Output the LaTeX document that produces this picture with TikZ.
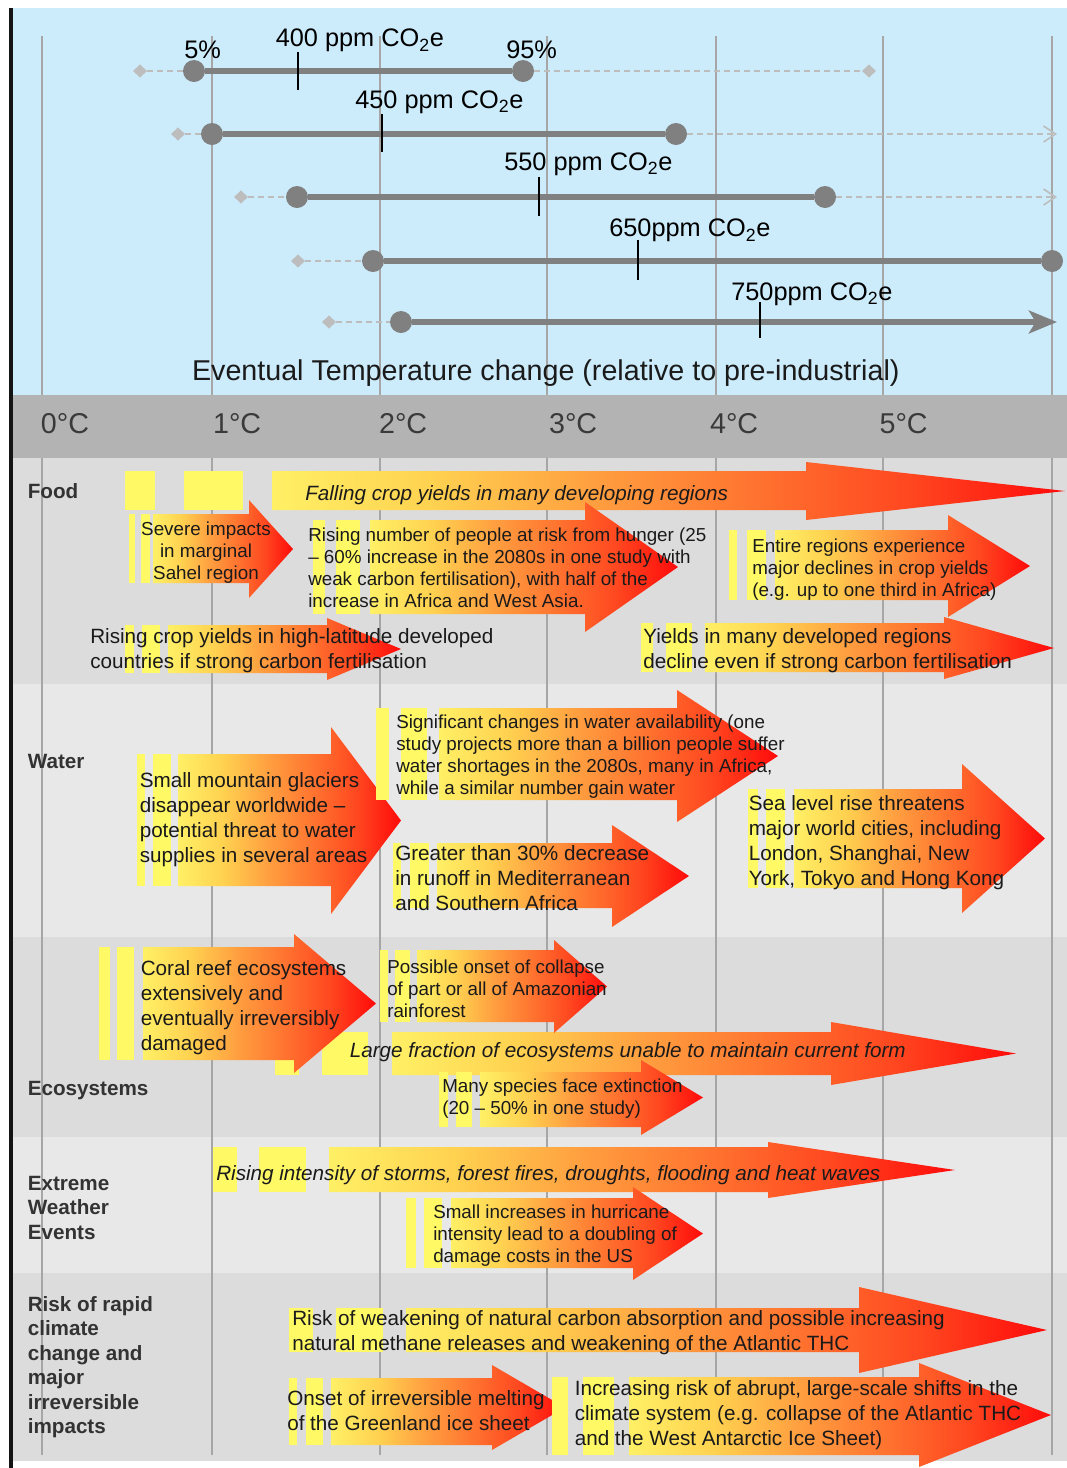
\documentclass[tikz,border=0pt]{standalone}
\usepackage{fontspec}
\setmainfont{Liberation Sans}
\usetikzlibrary{shapes.geometric,arrows.meta}
\definecolor{skyb}{HTML}{CCEBFB}
\definecolor{hdrgray}{HTML}{B3B3B3}
\definecolor{banda}{HTML}{DCDCDC}
\definecolor{bandb}{HTML}{E8E8E8}
\definecolor{gridc}{HTML}{A6A6A6}
\definecolor{ylwbar}{HTML}{FFF966}
\definecolor{shA}{HTML}{FFF066}
\definecolor{shB}{HTML}{FFD250}
\definecolor{shC}{HTML}{FFA040}
\definecolor{shD}{HTML}{FF7530}
\definecolor{shE}{HTML}{FF4820}
\definecolor{shF}{HTML}{FF0A0A}
\definecolor{rowline}{HTML}{808080}
\definecolor{dashc}{HTML}{BDBDBD}
\definecolor{txt}{HTML}{1A1A1A}
\definecolor{labc}{HTML}{333333}
\definecolor{degc}{HTML}{3A3A3A}
\pgfdeclarehorizontalshading{warm}{100bp}{color(0bp)=(shA); color(25bp)=(shA); color(35bp)=(shB); color(45bp)=(shC); color(55bp)=(shD); color(65bp)=(shE); color(75bp)=(shF); color(100bp)=(shF)}
\newcommand\txl[1]{\begin{tabular}[t]{@{}l@{}}#1\end{tabular}}
\newcommand\txc[1]{\begin{tabular}[t]{@{}c@{}}#1\end{tabular}}
% x0, y1, y2, xh, yt, yb, xt
\newcommand\garrow[7]{\shade[shading=warm] (#1,#2) -- (#4,#2) -- (#4,#5) -- (#7,{(#5+#6)/2}) -- (#4,#6) -- (#4,#3) -- (#1,#3) -- cycle;}
% x1, x2, y1, y2
\newcommand\ybr[4]{\fill[fill=ylwbar] (#1,#3) rectangle (#2,#4);}
\tikzset{
  lab/.style={font=\fontsize{15.5}{18.4}\selectfont\bfseries, text=labc, anchor=base west, inner sep=0pt},
  bt/.style={font=\fontsize{15.5}{18.75}\selectfont, text=txt, anchor=base west, inner sep=0pt},
  st/.style={font=\fontsize{14.1}{16.5}\selectfont, text=txt, anchor=base west, inner sep=0pt},
  itx/.style={font=\fontsize{15.5}{18.75}\selectfont\itshape, text=txt, anchor=base west, inner sep=0pt},
  topl/.style={font=\fontsize{19}{22}\selectfont, text=black, anchor=base west, inner sep=0pt},
  evt/.style={font=\fontsize{21.5}{25}\selectfont, text=txt, anchor=base west, inner sep=0pt},
  degl/.style={font=\fontsize{21.5}{25}\selectfont, text=degc, anchor=base west, inner sep=0pt},
  gridln/.style={draw=gridc, line width=1pt},
  dot/.style={circle, fill=rowline, minimum size=16.5pt, inner sep=0pt},
  dmd/.style={diamond, fill=dashc, minimum width=10.5pt, minimum height=10pt, inner sep=0pt},
  solidln/.style={draw=rowline, line width=4.5pt},
  dashln/.style={draw=dashc, line width=1.5pt, dash pattern=on 4.5pt off 3pt},
  tickln/.style={draw=black, line width=1.2pt},
}
\begin{document}
\begin{tikzpicture}[x=0.75pt, y=-0.75pt]
\useasboundingbox (0,0) rectangle (1067,1468);
\fill[white] (0,0) rectangle (1067,1468);
% panels
\fill[skyb] (12.5,8) rectangle (1067,395);
\fill[banda] (12.5,458) rectangle (1067,684);
\fill[bandb] (12.5,684) rectangle (1067,937);
\fill[banda] (12.5,937) rectangle (1067,1137);
\fill[bandb] (12.5,1137) rectangle (1067,1273);
\fill[banda] (12.5,1273) rectangle (1067,1461);
% grid lines
\foreach \gx in {42,212,380,547,716,883,1052} {
  \draw[gridln] (\gx,36) -- (\gx,395);
  \draw[gridln] (\gx,458) -- (\gx,1455);
}
\fill[hdrgray] (12.5,395) rectangle (1067,458);
\fill[black!92] (8.5,8) rectangle (12.5,1468);
% ---------- top rows ----------
\node[dmd] (d1l) at (140,71) {};
\node[dot] (o1l) at (194,71) {};
\node[dot] (o1r) at (523,71) {};
\node[dmd] (d1r) at (869,71) {};
\draw[dashln] (d1l) -- (o1l);
\draw[solidln] (o1l) -- (o1r);
\draw[dashln] (o1r) -- (d1r);
\node[dmd] (d2l) at (178,134) {};
\node[dot] (o2l) at (212,134) {};
\node[dot] (o2r) at (676,134) {};
\coordinate (e2) at (1057,134);
\draw[dashln] (d2l) -- (o2l);
\draw[solidln] (o2l) -- (o2r);
\draw[dashln, -{Straight Barb[length=9pt,width=12pt,line width=1.2pt]}] (o2r) -- (e2);
\node[dmd] (d3l) at (241,197) {};
\node[dot] (o3l) at (297,197) {};
\node[dot] (o3r) at (825,197) {};
\coordinate (e3) at (1057,197);
\draw[dashln] (d3l) -- (o3l);
\draw[solidln] (o3l) -- (o3r);
\draw[dashln, -{Straight Barb[length=9pt,width=12pt,line width=1.2pt]}] (o3r) -- (e3);
\node[dmd] (d4l) at (298,261) {};
\node[dot] (o4l) at (373,261) {};
\node[dot] (o4r) at (1052,261) {};
\draw[dashln] (d4l) -- (o4l);
\draw[solidln] (o4l) -- (o4r);
\node[dmd] (d5l) at (329,322) {};
\node[dot] (o5l) at (401,322) {};
\coordinate (e5) at (1057,322);
\draw[dashln] (d5l) -- (o5l);
\draw[solidln, -{Stealth[length=21pt,width=17pt,inset=5pt]}] (o5l) -- (e5);
% ticks
\draw[tickln] (298,52) -- (298,90);
\draw[tickln] (382,114) -- (382,152);
\draw[tickln] (539,177) -- (539,216);
\draw[tickln] (638,240) -- (638,280);
\draw[tickln] (760,302) -- (760,338);
% labels
\node[topl] (p5) at (184,58) {5\%};
\node[topl] (c400) at (275.5,46.7) {400 ppm CO\textsubscript{2}e};
\node[topl] (p95) at (506,58) {95\%};
\node[topl] (c450) at (355,108.3) {450 ppm CO\textsubscript{2}e};
\node[topl] (c550) at (504,170) {550 ppm CO\textsubscript{2}e};
\node[topl] (c650) at (609,236.7) {650ppm CO\textsubscript{2}e};
\node[topl] (c750) at (731,300) {750ppm CO\textsubscript{2}e};
\node[evt] (evtx) at (191.8,380) {Eventual Temperature change (relative to pre-industrial)};
\node[degl] (g0) at (40.6,433.3) {0°C};
\node[degl] (g1) at (212.8,433.3) {1°C};
\node[degl] (g2) at (378.8,433.3) {2°C};
\node[degl] (g3) at (548.8,433.3) {3°C};
\node[degl] (g4) at (709.8,433.3) {4°C};
\node[degl] (g5) at (879.3,433.3) {5°C};
% ---------- Food ----------
\ybr{125}{155}{471}{510}\ybr{184}{243}{471}{510}
\garrow{272}{471}{510}{806}{462}{520}{1065}
\ybr{129}{135}{514}{583}\ybr{141}{150}{514}{583}
\garrow{153}{514}{583}{249}{500}{598}{293}
\ybr{313}{325}{520}{614}\ybr{336}{360}{520}{614}
\garrow{370}{520}{614}{585}{502}{632}{678}
\ybr{729}{737}{530}{600}\ybr{747}{766}{530}{600}
\garrow{775}{530}{600}{948}{515}{617}{1030}
\ybr{125}{134}{625}{673}\ybr{142}{160}{625}{673}
\garrow{168}{625}{673}{327}{618}{680}{401}
\ybr{641}{653}{623}{672}\ybr{666}{692}{623}{672}
\garrow{705}{623}{672}{944}{617}{679}{1054}
% ---------- Water ----------
\ybr{137}{145}{754}{886}\ybr{153}{171}{754}{886}
\garrow{178}{754}{886}{331}{727}{914}{401}
\ybr{376}{389}{708}{800}\ybr{401}{427}{708}{800}
\garrow{439}{708}{800}{677}{690}{822}{778}
\ybr{393}{401}{843}{908}\ybr{410}{429}{843}{908}
\garrow{437}{843}{908}{612}{825}{927}{689}
\ybr{748}{758}{789}{888}\ybr{766}{785}{789}{888}
\garrow{794}{789}{888}{962}{764}{913}{1045}
% ---------- Ecosystems ----------
\ybr{275}{299}{1032}{1075}\ybr{322}{368}{1032}{1075}
\garrow{392}{1032}{1075}{831}{1022}{1085}{1016}
\ybr{99}{110}{947}{1060}\ybr{117}{134}{947}{1060}
\garrow{143}{947}{1060}{294}{934}{1073}{376}
\ybr{380}{388}{950}{1022}\ybr{395}{410}{950}{1022}
\garrow{417}{950}{1022}{554}{940}{1033}{607}
\ybr{439}{448}{1072}{1127}\ybr{456}{472}{1072}{1127}
\garrow{480}{1072}{1127}{641}{1060}{1135}{703}
% ---------- Extreme weather ----------
\ybr{213}{237}{1147}{1192}\ybr{259}{306}{1147}{1192}
\garrow{329}{1147}{1192}{768}{1142}{1198}{955}
\ybr{406}{416}{1198}{1268}\ybr{424}{442}{1198}{1268}
\garrow{451}{1198}{1268}{633}{1187}{1280}{703}
% ---------- Risk ----------
\ybr{289}{313}{1308}{1352}\ybr{336}{383}{1308}{1352}
\garrow{406}{1308}{1352}{859}{1287}{1373}{1047}
\ybr{289}{297}{1378}{1445}\ybr{306}{323}{1378}{1445}
\garrow{331}{1378}{1445}{492}{1365}{1450}{565}
\ybr{552}{568}{1377}{1455}\ybr{583}{614}{1377}{1455}
\garrow{629}{1377}{1455}{919}{1363}{1467}{1051}
% ---------- texts ----------
\node[lab] (food) at (27.5,498) {Food};
\node[itx] (t1) at (305,500) {Falling crop yields in many developing regions};
\node[st, anchor=base] (t2) at (206,535) {\txc{Severe impacts\\in marginal\\Sahel region}};
\node[st] (t3) at (308,541) {\txl{Rising number of people at risk from hunger (25\\– 60\% increase in the 2080s in one study with\\weak carbon fertilisation), with half of the\\increase in Africa and West Asia.}};
\node[st] (t4) at (752,552) {\txl{Entire regions experience\\major declines in crop yields\\(e.g. up to one third in Africa)}};
\node[bt] (t5) at (90,643) {\txl{Rising crop yields in high-latitude developed\\countries if strong carbon fertilisation}};
\node[bt] (t6) at (643,643) {\txl{Yields in many developed regions\\decline even if strong carbon fertilisation}};
\node[lab] (water) at (27.5,768) {Water};
\node[bt] (w1t) at (139.5,787) {\txl{Small mountain glaciers\\disappear worldwide –\\potential threat to water\\supplies in several areas}};
\node[st] (w2t) at (396,728) {\txl{Significant changes in water availability (one\\study projects more than a billion people suffer\\water shortages in the 2080s, many in Africa,\\while a similar number gain water}};
\node[bt] (w3t) at (395,860) {\txl{Greater than 30\% decrease\\in runoff in Mediterranean\\and Southern Africa}};
\node[bt] (w4t) at (748.5,810) {\txl{Sea level rise threatens\\major world cities, including\\London, Shanghai, New\\York, Tokyo and Hong Kong}};
\node[lab] (eco) at (27.5,1095) {Ecosystems};
\node[bt] (e1t) at (140.5,975) {\txl{Coral reef ecosystems\\extensively and\\eventually irreversibly\\damaged}};
\node[st] (e2t) at (387,973) {\txl{Possible onset of collapse\\of part or all of Amazonian\\rainforest}};
\node[itx] (e3t) at (349.5,1057) {Large fraction of ecosystems unable to maintain current form};
\node[st] (e4t) at (442,1092) {\txl{Many species face extinction\\(20 – 50\% in one study)}};
\node[lab] (ext) at (27.5,1190) {\txl{Extreme\\Weather\\Events}};
\node[itx] (x1t) at (216,1180) {Rising intensity of storms, forest fires, droughts, flooding and heat waves};
\node[st] (x2t) at (433,1218) {\txl{Small increases in hurricane\\intensity lead to a doubling of\\damage costs in the US}};
\node[lab] (risk) at (27.5,1311) {\txl{Risk of rapid\\climate\\change and\\major\\irreversible\\impacts}};
\node[bt] (r1t) at (292,1325) {\txl{Risk of weakening of natural carbon absorption and possible increasing\\natural methane releases and weakening of the Atlantic THC}};
\node[bt] (r2t) at (287,1405) {\txl{Onset of irreversible melting\\of the Greenland ice sheet}};
\node[bt] (r3t) at (574.5,1395) {\txl{Increasing risk of abrupt, large-scale shifts in the\\climate system (e.g. collapse of the Atlantic THC\\and the West Antarctic Ice Sheet)}};
\end{tikzpicture}
\end{document}
